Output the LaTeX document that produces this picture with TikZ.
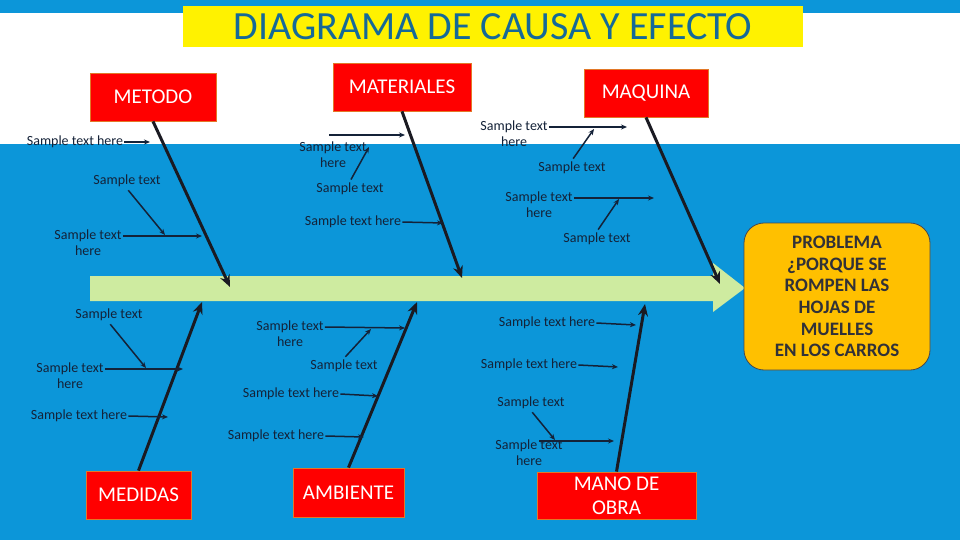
\documentclass[tikz,border=0pt]{standalone}
\usepackage{fontspec}
\setmainfont{Carlito}
\usetikzlibrary{positioning,arrows.meta}
\definecolor{fondo}{RGB}{12,150,217}
\definecolor{espina}{RGB}{206,235,160}
\definecolor{rojo}{RGB}{255,0,0}
\definecolor{borde}{RGB}{226,120,40}
\definecolor{naranja}{RGB}{255,192,0}
\definecolor{titulo}{RGB}{21,105,152}
\definecolor{tinta}{RGB}{20,34,56}
\definecolor{negro}{RGB}{26,26,34}
\begin{document}
\begin{tikzpicture}[x=1pt,y=-1pt,line cap=butt,line join=miter,>=stealth]
	\tikzset{
		cat/.style={fill=rojo,draw=borde,line width=.8pt,text=white,minimum height=48pt,inner sep=2pt,align=center,font=\fontsize{21}{24}\selectfont},
		lbl/.style={text=tinta,inner sep=1pt,text height=10pt,text depth=3pt,font=\fontsize{14}{16}\selectfont},
		hueso/.style={-{Stealth[length=12pt,width=10pt]},draw=negro,line width=3pt},
		sub/.style={-{Stealth[length=6pt,width=5pt]},draw=tinta,line width=1.5pt}
	}
	\useasboundingbox (0,0) rectangle (960,540);
	\fill[fondo] (0,0) rectangle (960,540);
	\fill[white] (0,13) rectangle (960,144);
	\node[fill=yellow,minimum width=620pt,minimum height=41pt,inner sep=0pt,text=titulo,font=\fontsize{40}{40}\selectfont] (tit) at (493,26.5) {DIAGRAMA DE CAUSA Y EFECTO};
	\fill[espina] (90,276) -- (713,276) -- (713,263) -- (745,288) -- (713,312) -- (713,301) -- (90,301) -- cycle;
	
	\node[cat,minimum width=126pt] (metodo) at (153,97) {METODO};
	\node[cat,minimum width=138pt] (materiales) at (402,87) {MATERIALES};
	\node[cat,minimum width=124pt] (maquina) at (646,93) {MAQUINA};
	\node[cat,minimum width=105pt] (medidas) at (138.5,495) {MEDIDAS};
	\node[cat,minimum width=111pt,minimum height=49pt] (ambiente) at (348.5,492.5) {AMBIENTE};
	\node[cat,minimum width=159pt,minimum height=47pt] (manobra) at (616.5,495.5) {MANO DE\\OBRA};
	
	\coordinate (tmetodo) at (230,287);
	\coordinate (tmateriales) at (462,278);
	\coordinate (tmaquina) at (720,284);
	\coordinate (tmedidas) at (202,302);
	\coordinate (tambiente) at (417,302);
	\coordinate (tmanobra) at (645,304);
	\foreach \n in {metodo,materiales,maquina}
		\draw[hueso] (\n.south) -- (t\n);
	\foreach \n in {medidas,ambiente,manobra}
		\draw[hueso] (\n.north) -- (t\n);
	
	\node[lbl] (a1) at (75,142) {Sample text here};
	\node[lbl] (a2) at (127,181) {Sample text};
	\node[lbl] (a3) at (88,236) {Sample text};
	\node[lbl,below=1pt of a3] (a3h) {here};
	\node[lbl] (b1) at (333,148) {Sample text};
	\node[lbl,below=1pt of b1] (b1h) {here};
	\node[lbl] (b2) at (350,189) {Sample text};
	\node[lbl] (b3) at (353,222) {Sample text here};
	\node[lbl] (c1) at (514,127) {Sample text};
	\node[lbl,below=1pt of c1] (c1h) {here};
	\node[lbl] (c2) at (572,168) {Sample text};
	\node[lbl] (c3) at (539,198) {Sample text};
	\node[lbl,below=1pt of c3] (c3h) {here};
	\node[lbl] (c4) at (597,239) {Sample text};
	\node[lbl] (d1) at (109,315) {Sample text};
	\node[lbl] (d2) at (70,369) {Sample text};
	\node[lbl,below=1pt of d2] (d2h) {here};
	\node[lbl] (d3) at (79,416) {Sample text here};
	\node[lbl] (e1) at (290,327) {Sample text};
	\node[lbl,below=1pt of e1] (e1h) {here};
	\node[lbl] (e2) at (344,366) {Sample text};
	\node[lbl] (e3) at (291,394) {Sample text here};
	\node[lbl] (e4) at (276,436) {Sample text here};
	\node[lbl] (f1) at (547,323) {Sample text here};
	\node[lbl] (f2) at (529,365) {Sample text here};
	\node[lbl] (f3) at (531,403) {Sample text};
	\node[lbl] (f4) at (529,446) {Sample text};
	\node[lbl,below=1pt of f4] (f4h) {here};
	
	\coordinate (pa1) at (150,142);
	\coordinate (pa2) at (165,235);
	\coordinate (pa3) at (202,236);
	\coordinate (sb0) at (329,135);
	\coordinate (pb0) at (405,135);
	\coordinate (pb2) at (369,147);
	\coordinate (pb3) at (443,223);
	\coordinate (pc1) at (627,127);
	\coordinate (pc2) at (594,129);
	\coordinate (pc3) at (654,198);
	\coordinate (pc4) at (619,199);
	\coordinate (pd1) at (146,368);
	\coordinate (pd2) at (183,369);
	\coordinate (pd3) at (168,417);
	\coordinate (pe1) at (405,328);
	\coordinate (pe2) at (371,329);
	\coordinate (pe3) at (378,396);
	\coordinate (pe4) at (364,437);
	\coordinate (pf1) at (636,325);
	\coordinate (pf2) at (618,367);
	\coordinate (pf3) at (555,440);
	\coordinate (sf4) at (539,441);
	\coordinate (pf4) at (614,441);
	\foreach \n in {a1,a3,b3,c1,c3,d2,d3,e1,e3,e4,f1,f2}
		\draw[sub] (\n.east) -- (p\n);
	\foreach \n/\a in {a2/south,b2/north,c2/north,c4/north,d1/south,e2/north,f3/south}
		\draw[sub,shorten <=2pt] (\n.\a) -- (p\n);
	\draw[sub] (sb0) -- (pb0);
	\draw[sub] (sf4) -- (pf4);
	
	\node[fill=naranja,draw=negro!80,line width=.8pt,rounded corners=20pt,minimum width=186pt,minimum height=147pt,align=center,text=negro!90,font=\bfseries\fontsize{19}{21.6}\selectfont] (problema) at (837,296.5) {PROBLEMA\\¿PORQUE SE\\ROMPEN LAS\\HOJAS DE\\MUELLES\\EN LOS CARROS};
\end{tikzpicture}
\end{document}
